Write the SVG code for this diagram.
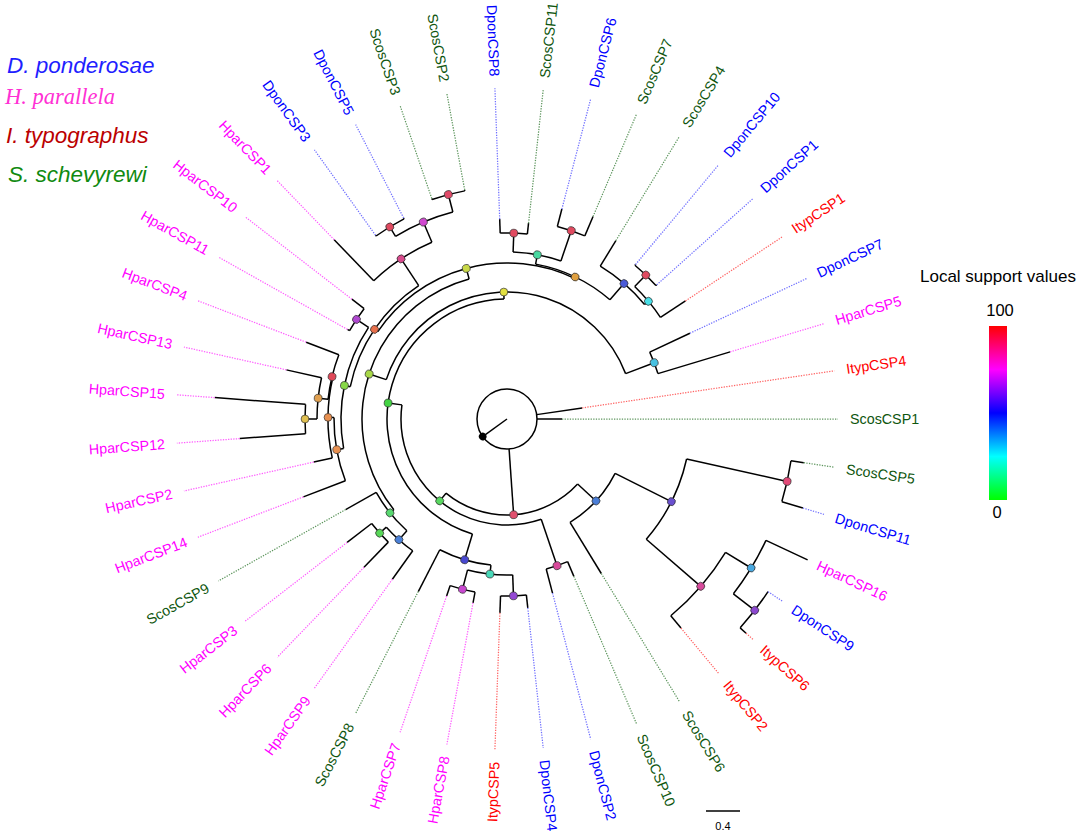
<svg xmlns="http://www.w3.org/2000/svg" width="1084" height="839" viewBox="0 0 1084 839">
<defs>
<linearGradient id="cb" x1="0" y1="0" x2="0" y2="1">
<stop offset="0" stop-color="#ff0000"/>
<stop offset="0.25" stop-color="#ff00ff"/>
<stop offset="0.5" stop-color="#0000ff"/>
<stop offset="0.75" stop-color="#00ffff"/>
<stop offset="1" stop-color="#00ff00"/>
</linearGradient>
</defs>
<style>
.br{stroke:#000;stroke-width:1.5;fill:none}
.dd{stroke-width:1.25;stroke-dasharray:1.3 1.3;fill:none}
.dD{stroke:#7070ff}.dH{stroke:#ff5cff}.dI{stroke:#ff6464}.dS{stroke:#5e965e}
.nd{stroke:#333;stroke-width:0.7}
.lab{font-family:"Liberation Sans",Arial,sans-serif;font-size:14.3px}
.D{fill:#0000ff}.H{fill:#ff00ff}.I{fill:#ff0000}.S{fill:#0f560f}
.leg{font-family:"Liberation Sans",Arial,sans-serif;font-size:22.5px;font-style:italic}
.txt{font-family:"Liberation Sans",Arial,sans-serif;fill:#000}
</style>
<rect width="1084" height="839" fill="#fff"/>
<g id="legend">
<text class="leg" x="7" y="73" fill="#1f1fff">D. ponderosae</text>
<text x="5" y="104" fill="#ff30d4" style="font-family:'Liberation Serif','Times New Roman',serif;font-size:22.5px;font-style:italic">H. parallela</text>
<text class="leg" x="6" y="143" fill="#bb0000">I. typographus</text>
<text class="leg" x="8" y="182" fill="#108a10">S. schevyrewi</text>
</g>
<g id="colorbar">
<text class="txt" x="920" y="282" font-size="17">Local support values</text>
<text class="txt" x="1000" y="316" font-size="16.5" text-anchor="middle">100</text>
<rect x="989" y="326" width="18" height="174" fill="url(#cb)"/>
<text class="txt" x="997" y="518" font-size="16.5" text-anchor="middle">0</text>
</g>
<g id="scalebar">
<line x1="706" y1="811" x2="740" y2="811" stroke="#000" stroke-width="1.5"/>
<text class="txt" x="723" y="830" font-size="11" text-anchor="middle">0.4</text>
</g>
<g transform="translate(507,419)">
<g id="connectors">
<circle class="br" r="30"/>
<line class="br" x1="0" x2="30" transform="rotate(144.2)"/>
<circle class="br" r="96" pathLength="360" stroke-dasharray="86.765 400" transform="rotate(42.645)"/>
<circle class="br" r="121" pathLength="360" stroke-dasharray="31.919 400" transform="rotate(26.686)"/>
<circle class="br" r="184" pathLength="360" stroke-dasharray="28.256 400" transform="rotate(12.558)"/>
<circle class="br" r="287" pathLength="360" stroke-dasharray="8.372 400" transform="rotate(8.372)"/>
<circle class="br" r="256" pathLength="360" stroke-dasharray="18.838 400" transform="rotate(31.395)"/>
<circle class="br" r="286" pathLength="360" stroke-dasharray="12.558 400" transform="rotate(25.116)"/>
<circle class="br" r="313" pathLength="360" stroke-dasharray="8.372 400" transform="rotate(33.488)"/>
<circle class="br" r="106" pathLength="360" stroke-dasharray="116.494 400" transform="rotate(71.163)"/>
<circle class="br" r="155" pathLength="360" stroke-dasharray="8.372 400" transform="rotate(66.977)"/>
<circle class="br" r="120" pathLength="360" stroke-dasharray="161.826 400" transform="rotate(106.744)"/>
<circle class="br" r="147" pathLength="360" stroke-dasharray="20.930 400" transform="rotate(96.279)"/>
<circle class="br" r="156" pathLength="360" stroke-dasharray="16.744 400" transform="rotate(87.907)"/>
<circle class="br" r="176" pathLength="360" stroke-dasharray="8.372 400" transform="rotate(100.465)"/>
<circle class="br" r="177" pathLength="360" stroke-dasharray="8.372 400" transform="rotate(83.721)"/>
<circle class="br" r="127" pathLength="360" stroke-dasharray="141.001 400" transform="rotate(198.069)"/>
<circle class="br" r="145" pathLength="360" stroke-dasharray="113.580 400" transform="rotate(141.279)"/>
<circle class="br" r="150" pathLength="360" stroke-dasharray="18.838 400" transform="rotate(131.860)"/>
<circle class="br" r="162" pathLength="360" stroke-dasharray="12.559 400" transform="rotate(125.581)"/>
<circle class="br" r="171" pathLength="360" stroke-dasharray="8.373 400" transform="rotate(133.953)"/>
<circle class="br" r="156" pathLength="360" stroke-dasharray="81.562 400" transform="rotate(214.078)"/>
<circle class="br" r="160" pathLength="360" stroke-dasharray="44.869 400" transform="rotate(191.643)"/>
<circle class="br" r="166" pathLength="360" stroke-dasharray="43.691 400" transform="rotate(169.797)"/>
<circle class="br" r="173" pathLength="360" stroke-dasharray="21.453 400" transform="rotate(159.070)"/>
<circle class="br" r="179" pathLength="360" stroke-dasharray="26.163 400" transform="rotate(167.442)"/>
<circle class="br" r="180" pathLength="360" stroke-dasharray="14.651 400" transform="rotate(186.279)"/>
<circle class="br" r="190" pathLength="360" stroke-dasharray="12.558 400" transform="rotate(180)"/>
<circle class="br" r="202" pathLength="360" stroke-dasharray="8.372 400" transform="rotate(175.814)"/>
<circle class="br" r="180.5" pathLength="360" stroke-dasharray="8.372 400" transform="rotate(209.302)"/>
<circle class="br" r="192" pathLength="360" stroke-dasharray="20.930 400" transform="rotate(226.047)"/>
<circle class="br" r="214" pathLength="360" stroke-dasharray="16.744 400" transform="rotate(238.605)"/>
<circle class="br" r="225" pathLength="360" stroke-dasharray="8.372 400" transform="rotate(234.419)"/>
<circle class="br" r="232" pathLength="360" stroke-dasharray="8.372 400" transform="rotate(251.163)"/>
<circle class="br" r="157.5" pathLength="360" stroke-dasharray="30.349 400" transform="rotate(280.465)"/>
<circle class="br" r="167" pathLength="360" stroke-dasharray="16.744 400" transform="rotate(272.093)"/>
<circle class="br" r="186" pathLength="360" stroke-dasharray="8.372 400" transform="rotate(267.907)"/>
<circle class="br" r="199" pathLength="360" stroke-dasharray="8.372 400" transform="rotate(284.651)"/>
<circle class="br" r="179" pathLength="360" stroke-dasharray="18.838 400" transform="rotate(301.395)"/>
<circle class="br" r="184" pathLength="360" stroke-dasharray="12.558 400" transform="rotate(313.954)"/>
<circle class="br" r="200" pathLength="360" stroke-dasharray="8.373 400" transform="rotate(309.767)"/>
<circle class="br" r="157.6" pathLength="360" stroke-dasharray="8.372 400" transform="rotate(334.884)"/>
<line class="br" x1="30" x2="96" transform="rotate(86.028)"/>
<line class="br" x1="96" x2="121" transform="rotate(42.645)"/>
<line class="br" x1="121" x2="184" transform="rotate(26.686)"/>
<line class="br" x1="184" x2="287" transform="rotate(12.558)"/>
<line class="br" x1="184" x2="256" transform="rotate(40.814)"/>
<line class="br" x1="256" x2="286" transform="rotate(31.395)"/>
<line class="br" x1="286" x2="313" transform="rotate(37.674)"/>
<line class="br" x1="96" x2="106" transform="rotate(129.410)"/>
<line class="br" x1="106" x2="155" transform="rotate(71.163)"/>
<line class="br" x1="106" x2="120" transform="rotate(187.657)"/>
<line class="br" x1="120" x2="147" transform="rotate(106.744)"/>
<line class="br" x1="147" x2="156" transform="rotate(96.279)"/>
<line class="br" x1="156" x2="176" transform="rotate(104.651)"/>
<line class="br" x1="156" x2="177" transform="rotate(87.907)"/>
<line class="br" x1="120" x2="127" transform="rotate(268.570)"/>
<line class="br" x1="127" x2="145" transform="rotate(198.069)"/>
<line class="br" x1="145" x2="150" transform="rotate(141.279)"/>
<line class="br" x1="150" x2="162" transform="rotate(131.860)"/>
<line class="br" x1="162" x2="171" transform="rotate(138.140)"/>
<line class="br" x1="145" x2="156" transform="rotate(254.859)"/>
<line class="br" x1="156" x2="160" transform="rotate(214.078)"/>
<line class="br" x1="160" x2="166" transform="rotate(191.643)"/>
<line class="br" x1="166" x2="173" transform="rotate(169.797)"/>
<line class="br" x1="173" x2="179" transform="rotate(180.523)"/>
<line class="br" x1="179" x2="180" transform="rotate(193.605)"/>
<line class="br" x1="180" x2="190" transform="rotate(186.279)"/>
<line class="br" x1="190" x2="202" transform="rotate(180)"/>
<line class="br" x1="166" x2="180.5" transform="rotate(213.488)"/>
<line class="br" x1="160" x2="192" transform="rotate(236.512)"/>
<line class="br" x1="192" x2="214" transform="rotate(246.977)"/>
<line class="br" x1="214" x2="225" transform="rotate(238.605)"/>
<line class="br" x1="214" x2="232" transform="rotate(255.349)"/>
<line class="br" x1="156" x2="157.5" transform="rotate(295.640)"/>
<line class="br" x1="157.5" x2="167" transform="rotate(280.465)"/>
<line class="br" x1="167" x2="186" transform="rotate(272.093)"/>
<line class="br" x1="167" x2="199" transform="rotate(288.837)"/>
<line class="br" x1="157.5" x2="179" transform="rotate(310.814)"/>
<line class="br" x1="179" x2="184" transform="rotate(320.233)"/>
<line class="br" x1="184" x2="200" transform="rotate(313.954)"/>
<line class="br" x1="127" x2="157.6" transform="rotate(339.070)"/>
<line class="br" x1="30" x2="55" transform="rotate(0)"/><line class="dd dS" x1="55" x2="331" transform="rotate(0)"/>
<line class="br" x1="287" x2="300" transform="rotate(8.372)"/><line class="dd dS" x1="300" x2="331" transform="rotate(8.372)"/>
<line class="br" x1="287" x2="309" transform="rotate(16.744)"/><line class="dd dD" x1="309" x2="331" transform="rotate(16.744)"/>
<line class="br" x1="286" x2="332" transform="rotate(25.116)"/>
<line class="dd dD" x1="313" x2="331" transform="rotate(33.488)"/>
<line class="br" x1="313" x2="321" transform="rotate(41.860)"/><line class="dd dI" x1="321" x2="331" transform="rotate(41.860)"/>
<line class="br" x1="256" x2="272" transform="rotate(50.233)"/><line class="dd dI" x1="272" x2="331" transform="rotate(50.233)"/>
<line class="br" x1="121" x2="181" transform="rotate(58.605)"/><line class="dd dS" x1="181" x2="331" transform="rotate(58.605)"/>
<line class="br" x1="155" x2="171" transform="rotate(66.977)"/><line class="dd dS" x1="171" x2="331" transform="rotate(66.977)"/>
<line class="br" x1="155" x2="180" transform="rotate(75.349)"/><line class="dd dD" x1="180" x2="331" transform="rotate(75.349)"/>
<line class="br" x1="177" x2="190" transform="rotate(83.721)"/><line class="dd dD" x1="190" x2="331" transform="rotate(83.721)"/>
<line class="br" x1="177" x2="194" transform="rotate(92.093)"/><line class="dd dI" x1="194" x2="331" transform="rotate(92.093)"/>
<line class="br" x1="176" x2="187" transform="rotate(100.465)"/><line class="dd dH" x1="187" x2="331" transform="rotate(100.465)"/>
<line class="br" x1="176" x2="187" transform="rotate(108.837)"/><line class="dd dH" x1="187" x2="331" transform="rotate(108.837)"/>
<line class="br" x1="147" x2="194" transform="rotate(117.209)"/><line class="dd dS" x1="194" x2="331" transform="rotate(117.209)"/>
<line class="br" x1="162" x2="197" transform="rotate(125.581)"/><line class="dd dH" x1="197" x2="331" transform="rotate(125.581)"/>
<line class="br" x1="171" x2="206" transform="rotate(133.953)"/><line class="dd dH" x1="206" x2="331" transform="rotate(133.953)"/>
<line class="br" x1="171" x2="202" transform="rotate(142.326)"/><line class="dd dH" x1="202" x2="331" transform="rotate(142.326)"/>
<line class="br" x1="150" x2="185" transform="rotate(150.698)"/><line class="dd dS" x1="185" x2="331" transform="rotate(150.698)"/>
<line class="br" x1="173" x2="218" transform="rotate(159.070)"/><line class="dd dH" x1="218" x2="331" transform="rotate(159.070)"/>
<line class="br" x1="179" x2="198" transform="rotate(167.442)"/><line class="dd dH" x1="198" x2="331" transform="rotate(167.442)"/>
<line class="br" x1="202" x2="268" transform="rotate(175.814)"/><line class="dd dH" x1="268" x2="331" transform="rotate(175.814)"/>
<line class="br" x1="202" x2="293" transform="rotate(184.186)"/><line class="dd dH" x1="293" x2="331" transform="rotate(184.186)"/>
<line class="br" x1="190" x2="226" transform="rotate(192.558)"/><line class="dd dH" x1="226" x2="331" transform="rotate(192.558)"/>
<line class="br" x1="180" x2="215" transform="rotate(200.930)"/><line class="dd dH" x1="215" x2="331" transform="rotate(200.930)"/>
<line class="br" x1="180.5" x2="183" transform="rotate(209.302)"/><line class="dd dH" x1="183" x2="331" transform="rotate(209.302)"/>
<line class="br" x1="180.5" x2="196" transform="rotate(217.674)"/><line class="dd dH" x1="196" x2="331" transform="rotate(217.674)"/>
<line class="br" x1="192" x2="249" transform="rotate(226.047)"/><line class="dd dH" x1="249" x2="331" transform="rotate(226.047)"/>
<line class="br" x1="225" x2="226" transform="rotate(234.419)"/><line class="dd dD" x1="226" x2="331" transform="rotate(234.419)"/>
<line class="br" x1="225" x2="226" transform="rotate(242.791)"/><line class="dd dD" x1="226" x2="331" transform="rotate(242.791)"/>
<line class="br" x1="232" x2="233" transform="rotate(251.163)"/><line class="dd dS" x1="233" x2="331" transform="rotate(251.163)"/>
<line class="br" x1="232" x2="233" transform="rotate(259.535)"/><line class="dd dS" x1="233" x2="331" transform="rotate(259.535)"/>
<line class="br" x1="186" x2="200" transform="rotate(267.907)"/><line class="dd dD" x1="200" x2="331" transform="rotate(267.907)"/>
<line class="br" x1="186" x2="197" transform="rotate(276.279)"/><line class="dd dS" x1="197" x2="331" transform="rotate(276.279)"/>
<line class="br" x1="199" x2="217" transform="rotate(284.651)"/><line class="dd dD" x1="217" x2="331" transform="rotate(284.651)"/>
<line class="br" x1="199" x2="220" transform="rotate(293.023)"/><line class="dd dS" x1="220" x2="331" transform="rotate(293.023)"/>
<line class="br" x1="179" x2="209" transform="rotate(301.395)"/><line class="dd dS" x1="209" x2="331" transform="rotate(301.395)"/>
<line class="br" x1="200" x2="201" transform="rotate(309.767)"/><line class="dd dD" x1="201" x2="331" transform="rotate(309.767)"/>
<line class="br" x1="200" x2="201" transform="rotate(318.140)"/><line class="dd dD" x1="201" x2="331" transform="rotate(318.140)"/>
<line class="br" x1="184" x2="214" transform="rotate(326.512)"/><line class="dd dI" x1="214" x2="331" transform="rotate(326.512)"/>
<line class="br" x1="157.6" x2="202" transform="rotate(334.884)"/><line class="dd dD" x1="202" x2="331" transform="rotate(334.884)"/>
<line class="br" x1="157.6" x2="233" transform="rotate(343.256)"/><line class="dd dH" x1="233" x2="331" transform="rotate(343.256)"/>
<line class="br" x1="30" x2="76" transform="rotate(351.628)"/><line class="dd dI" x1="76" x2="331" transform="rotate(351.628)"/>
</g>
<g id="internal-nodes">
<g id="n-root"><circle cx="30" r="3.8" fill="#000" transform="rotate(144.2)"/></g>
<g id="n-A"><circle class="nd" cx="96" r="3.9" fill="#e0506e" transform="rotate(86.028)"/></g>
<g id="n-B"><circle class="nd" cx="121" r="3.9" fill="#4a7ed8" transform="rotate(42.645)"/></g>
<g id="n-P184"><circle class="nd" cx="184" r="3.9" fill="#6a50d0" transform="rotate(26.686)"/></g>
<g id="n-R12"><circle class="nd" cx="287" r="3.9" fill="#e24a78" transform="rotate(12.558)"/></g>
<g id="n-P41"><circle class="nd" cx="256" r="3.9" fill="#d84a9c" transform="rotate(40.814)"/></g>
<g id="n-LB31"><circle class="nd" cx="286" r="3.9" fill="#48a8e0" transform="rotate(31.395)"/></g>
<g id="n-P37"><circle class="nd" cx="313" r="3.9" fill="#8c48d0" transform="rotate(37.674)"/></g>
<g id="n-G1"><circle class="nd" cx="106" r="3.9" fill="#58d860" transform="rotate(129.410)"/></g>
<g id="n-N8"><circle class="nd" cx="155" r="3.9" fill="#d8489a" transform="rotate(71.163)"/></g>
<g id="n-G2"><circle class="nd" cx="120" r="3.9" fill="#44d444" transform="rotate(187.657)"/></g>
<g id="n-NB107"><circle class="nd" cx="147" r="3.9" fill="#4848d0" transform="rotate(106.744)"/></g>
<g id="n-T96"><circle class="nd" cx="156" r="3.9" fill="#48d8b8" transform="rotate(96.279)"/></g>
<g id="n-M104"><circle class="nd" cx="176" r="3.9" fill="#c848d0" transform="rotate(104.651)"/></g>
<g id="n-P88"><circle class="nd" cx="177" r="3.9" fill="#9448d4" transform="rotate(87.907)"/></g>
<g id="n-Y1"><circle class="nd" cx="127" r="3.9" fill="#e2e040" transform="rotate(268.570)"/></g>
<g id="n-YG1"><circle class="nd" cx="145" r="3.9" fill="#a8d848" transform="rotate(198.069)"/></g>
<g id="n-G14"><circle class="nd" cx="150" r="3.9" fill="#58d870" transform="rotate(141.279)"/></g>
<g id="n-B15"><circle class="nd" cx="162" r="3.9" fill="#4a80d8" transform="rotate(131.860)"/></g>
<g id="n-G16"><circle class="nd" cx="171" r="3.9" fill="#58d858" transform="rotate(138.140)"/></g>
<g id="n-YG2"><circle class="nd" cx="156" r="3.9" fill="#c8d848" transform="rotate(254.859)"/></g>
<g id="n-O213"><circle class="nd" cx="160" r="3.9" fill="#e8704c" transform="rotate(214.078)"/></g>
<g id="n-G191"><circle class="nd" cx="166" r="3.9" fill="#88d848" transform="rotate(191.643)"/></g>
<g id="n-O169"><circle class="nd" cx="173" r="3.9" fill="#e89050" transform="rotate(169.797)"/></g>
<g id="n-O180"><circle class="nd" cx="179" r="3.9" fill="#e89050" transform="rotate(180.523)"/></g>
<g id="n-R193"><circle class="nd" cx="180" r="3.9" fill="#e04858" transform="rotate(193.605)"/></g>
<g id="n-O186"><circle class="nd" cx="190" r="3.9" fill="#e0a050" transform="rotate(186.279)"/></g>
<g id="n-Y180"><circle class="nd" cx="202" r="3.9" fill="#e0c050" transform="rotate(180)"/></g>
<g id="n-M213"><circle class="nd" cx="180.5" r="3.9" fill="#b048d0" transform="rotate(213.488)"/></g>
<g id="n-P236"><circle class="nd" cx="192" r="3.9" fill="#d84a8c" transform="rotate(236.512)"/></g>
<g id="n-M246"><circle class="nd" cx="214" r="3.9" fill="#d048d0" transform="rotate(246.977)"/></g>
<g id="n-R238"><circle class="nd" cx="225" r="3.9" fill="#e04a60" transform="rotate(238.605)"/></g>
<g id="n-R255"><circle class="nd" cx="232" r="3.9" fill="#e04a68" transform="rotate(255.349)"/></g>
<g id="n-O295"><circle class="nd" cx="157.5" r="3.9" fill="#e0a040" transform="rotate(295.640)"/></g>
<g id="n-T280"><circle class="nd" cx="167" r="3.9" fill="#48d8a0" transform="rotate(280.465)"/></g>
<g id="n-R272"><circle class="nd" cx="186" r="3.9" fill="#e04a60" transform="rotate(272.093)"/></g>
<g id="n-R288"><circle class="nd" cx="199" r="3.9" fill="#e04a60" transform="rotate(288.837)"/></g>
<g id="n-B310"><circle class="nd" cx="179" r="3.9" fill="#4a5ad8" transform="rotate(310.814)"/></g>
<g id="n-C320"><circle class="nd" cx="184" r="3.9" fill="#48e0e8" transform="rotate(320.233)"/></g>
<g id="n-R314"><circle class="nd" cx="200" r="3.9" fill="#e04a60" transform="rotate(313.954)"/></g>
<g id="n-C1"><circle class="nd" cx="157.6" r="3.9" fill="#48c0e0" transform="rotate(339.070)"/></g>
</g>
<g id="tips">
<g id="tip-ScosCSP1"><text class="lab S" dy="0.35em" transform="rotate(0) translate(343,0)">ScosCSP1</text></g>
<g id="tip-ScosCSP5"><text class="lab S" dy="0.35em" transform="rotate(8.372) translate(343,0)">ScosCSP5</text></g>
<g id="tip-DponCSP11"><text class="lab D" dy="0.35em" transform="rotate(16.744) translate(343,0)">DponCSP11</text></g>
<g id="tip-HparCSP16"><text class="lab H" dy="0.35em" transform="rotate(25.116) translate(343,0)">HparCSP16</text></g>
<g id="tip-DponCSP9"><text class="lab D" dy="0.35em" transform="rotate(33.488) translate(343,0)">DponCSP9</text></g>
<g id="tip-ItypCSP6"><text class="lab I" dy="0.35em" transform="rotate(41.860) translate(343,0)">ItypCSP6</text></g>
<g id="tip-ItypCSP2"><text class="lab I" dy="0.35em" transform="rotate(50.233) translate(343,0)">ItypCSP2</text></g>
<g id="tip-ScosCSP6"><text class="lab S" dy="0.35em" transform="rotate(58.605) translate(343,0)">ScosCSP6</text></g>
<g id="tip-ScosCSP10"><text class="lab S" dy="0.35em" transform="rotate(66.977) translate(343,0)">ScosCSP10</text></g>
<g id="tip-DponCSP2"><text class="lab D" dy="0.35em" transform="rotate(75.349) translate(343,0)">DponCSP2</text></g>
<g id="tip-DponCSP4"><text class="lab D" dy="0.35em" transform="rotate(83.721) translate(343,0)">DponCSP4</text></g>
<g id="tip-ItypCSP5"><text class="lab I" dy="0.35em" text-anchor="end" transform="rotate(-87.907) translate(-343,0)">ItypCSP5</text></g>
<g id="tip-HparCSP8"><text class="lab H" dy="0.35em" text-anchor="end" transform="rotate(-79.535) translate(-343,0)">HparCSP8</text></g>
<g id="tip-HparCSP7"><text class="lab H" dy="0.35em" text-anchor="end" transform="rotate(-71.163) translate(-343,0)">HparCSP7</text></g>
<g id="tip-ScosCSP8"><text class="lab S" dy="0.35em" text-anchor="end" transform="rotate(-62.791) translate(-343,0)">ScosCSP8</text></g>
<g id="tip-HparCSP9"><text class="lab H" dy="0.35em" text-anchor="end" transform="rotate(-54.419) translate(-343,0)">HparCSP9</text></g>
<g id="tip-HparCSP6"><text class="lab H" dy="0.35em" text-anchor="end" transform="rotate(-46.047) translate(-343,0)">HparCSP6</text></g>
<g id="tip-HparCSP3"><text class="lab H" dy="0.35em" text-anchor="end" transform="rotate(-37.674) translate(-343,0)">HparCSP3</text></g>
<g id="tip-ScosCSP9"><text class="lab S" dy="0.35em" text-anchor="end" transform="rotate(-29.302) translate(-343,0)">ScosCSP9</text></g>
<g id="tip-HparCSP14"><text class="lab H" dy="0.35em" text-anchor="end" transform="rotate(-20.930) translate(-343,0)">HparCSP14</text></g>
<g id="tip-HparCSP2"><text class="lab H" dy="0.35em" text-anchor="end" transform="rotate(-12.558) translate(-343,0)">HparCSP2</text></g>
<g id="tip-HparCSP12"><text class="lab H" dy="0.35em" text-anchor="end" transform="rotate(-4.186) translate(-343,0)">HparCSP12</text></g>
<g id="tip-HparCSP15"><text class="lab H" dy="0.35em" text-anchor="end" transform="rotate(4.186) translate(-343,0)">HparCSP15</text></g>
<g id="tip-HparCSP13"><text class="lab H" dy="0.35em" text-anchor="end" transform="rotate(12.558) translate(-343,0)">HparCSP13</text></g>
<g id="tip-HparCSP4"><text class="lab H" dy="0.35em" text-anchor="end" transform="rotate(20.930) translate(-343,0)">HparCSP4</text></g>
<g id="tip-HparCSP11"><text class="lab H" dy="0.35em" text-anchor="end" transform="rotate(29.302) translate(-343,0)">HparCSP11</text></g>
<g id="tip-HparCSP10"><text class="lab H" dy="0.35em" text-anchor="end" transform="rotate(37.674) translate(-343,0)">HparCSP10</text></g>
<g id="tip-HparCSP1"><text class="lab H" dy="0.35em" text-anchor="end" transform="rotate(46.047) translate(-343,0)">HparCSP1</text></g>
<g id="tip-DponCSP3"><text class="lab D" dy="0.35em" text-anchor="end" transform="rotate(54.419) translate(-343,0)">DponCSP3</text></g>
<g id="tip-DponCSP5"><text class="lab D" dy="0.35em" text-anchor="end" transform="rotate(62.791) translate(-343,0)">DponCSP5</text></g>
<g id="tip-ScosCSP3"><text class="lab S" dy="0.35em" text-anchor="end" transform="rotate(71.163) translate(-343,0)">ScosCSP3</text></g>
<g id="tip-ScosCSP2"><text class="lab S" dy="0.35em" text-anchor="end" transform="rotate(79.535) translate(-343,0)">ScosCSP2</text></g>
<g id="tip-DponCSP8"><text class="lab D" dy="0.35em" text-anchor="end" transform="rotate(87.907) translate(-343,0)">DponCSP8</text></g>
<g id="tip-ScosCSP11"><text class="lab S" dy="0.35em" transform="rotate(276.279) translate(343,0)">ScosCSP11</text></g>
<g id="tip-DponCSP6"><text class="lab D" dy="0.35em" transform="rotate(284.651) translate(343,0)">DponCSP6</text></g>
<g id="tip-ScosCSP7"><text class="lab S" dy="0.35em" transform="rotate(293.023) translate(343,0)">ScosCSP7</text></g>
<g id="tip-ScosCSP4"><text class="lab S" dy="0.35em" transform="rotate(301.395) translate(343,0)">ScosCSP4</text></g>
<g id="tip-DponCSP10"><text class="lab D" dy="0.35em" transform="rotate(309.767) translate(343,0)">DponCSP10</text></g>
<g id="tip-DponCSP1"><text class="lab D" dy="0.35em" transform="rotate(318.140) translate(343,0)">DponCSP1</text></g>
<g id="tip-ItypCSP1"><text class="lab I" dy="0.35em" transform="rotate(326.512) translate(343,0)">ItypCSP1</text></g>
<g id="tip-DponCSP7"><text class="lab D" dy="0.35em" transform="rotate(334.884) translate(343,0)">DponCSP7</text></g>
<g id="tip-HparCSP5"><text class="lab H" dy="0.35em" transform="rotate(343.256) translate(343,0)">HparCSP5</text></g>
<g id="tip-ItypCSP4"><text class="lab I" dy="0.35em" transform="rotate(351.628) translate(343,0)">ItypCSP4</text></g>
</g>
</g>
</svg>
